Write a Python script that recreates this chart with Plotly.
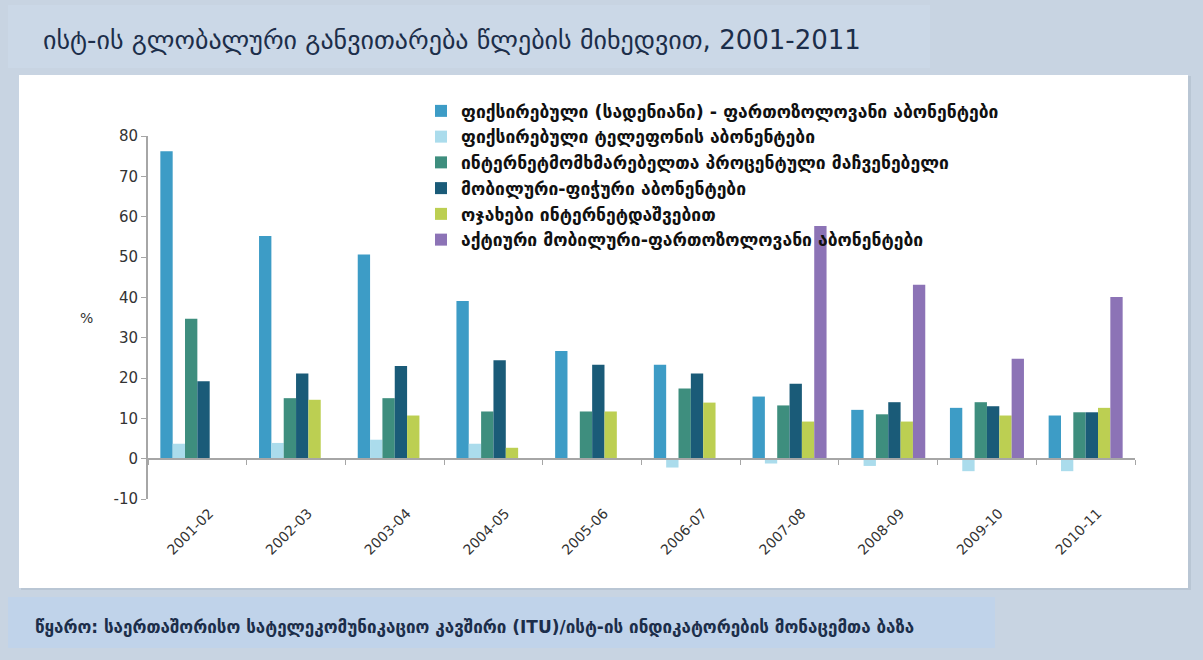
import plotly.graph_objects as go

categories = ["2001-02", "2002-03", "2003-04", "2004-05", "2005-06",
              "2006-07", "2007-08", "2008-09", "2009-10", "2010-11"]

series_names = [
    "ფიქსირებული (სადენიანი) - ფართოზოლოვანი აბონენტები",
    "ფიქსირებული ტელეფონის აბონენტები",
    "ინტერნეტმომხმარებელთა პროცენტული მაჩვენებელი",
    "მობილური-ფიჭური აბონენტები",
    "ოჯახები ინტერნეტდაშვებით",
    "აქტიური მობილური-ფართოზოლოვანი აბონენტები",
]

fixed_broadband = [76.2, 55.2, 50.6, 39.1, 26.7, 23.3, 15.4, 12.1, 12.6, 10.7]
fixed_telephone = [3.7, 3.9, 4.7, 3.7, -0.3, -2.2, -1.2, -1.8, -3.1, -3.1]
internet_users = [34.7, 15.0, 15.0, 11.7, 11.7, 17.4, 13.2, 11.0, 14.0, 11.5]
mobile_cellular = [19.2, 21.1, 23.0, 24.4, 23.3, 21.1, 18.6, 14.0, 13.0, 11.5]
households_internet = [None, 14.6, 10.7, 2.7, 11.7, 13.9, 9.2, 9.2, 10.7, 12.6]
active_mobile_broadband = [None, None, None, None, None, None, 57.7, 43.1, 24.8, 40.1]

series_values = [fixed_broadband, fixed_telephone, internet_users,
                 mobile_cellular, households_internet, active_mobile_broadband]
colors = ["#3d9cc6", "#abdcec", "#3e8e7e", "#1a5b78", "#bccf52", "#8c73b6"]

y_ticks = [-10, 0, 10, 20, 30, 40, 50, 60, 70, 80]

title_text = "ისტ-ის გლობალური განვითარება წლების მიხედვით, 2001-2011"
source_text = "წყარო: საერთაშორისო სატელეკომუნიკაციო კავშირი (ITU)/ისტ-ის ინდიკატორების მონაცემთა ბაზა"

W, H = 1203, 660
ML, MR, MT, MB = 148, 68, 136, 161
PW = W - ML - MR
PH = H - MT - MB


def px(x):
    return (x - ML) / PW


def py(y):
    return (H - MB - y) / PH


fig = go.Figure()
for i, (name, vals, col) in enumerate(zip(series_names, series_values, colors)):
    fig.add_trace(go.Bar(
        x=categories, y=vals, name=name, marker_color=col,
        marker_line_width=0, legendgroup=f"g{i}",
    ))

shapes = [
    # title band
    dict(type="rect", xref="paper", yref="paper", x0=px(8), x1=px(930),
         y0=py(68), y1=py(5), fillcolor="#cbd8e7", line_width=0, layer="below"),
    # white panel shadow
    dict(type="rect", xref="paper", yref="paper", x0=px(21), x1=px(1191),
         y0=py(590), y1=py(76), fillcolor="#b9c6d4", line_width=0, layer="below"),
    # white panel
    dict(type="rect", xref="paper", yref="paper", x0=px(19), x1=px(1188),
         y0=py(588), y1=py(75), fillcolor="#ffffff", line_width=0, layer="below"),
    # footer band
    dict(type="rect", xref="paper", yref="paper", x0=px(8), x1=px(995),
         y0=py(648), y1=py(597), fillcolor="#c0d3ea", line_width=0, layer="below"),
]

annotations = [
    dict(text="%", xref="paper", yref="paper", x=px(86), y=py(318),
         showarrow=False, font=dict(family="DejaVu Sans", size=14, color="#333333"),
         xanchor="center", yanchor="middle"),
    dict(text=source_text, xref="paper", yref="paper", x=px(33), y=py(627),
         showarrow=False, xanchor="left", yanchor="middle",
         font=dict(family="DejaVu Sans", size=17, color="#1c2e4a", weight="bold")),
]

fig.update_layout(
    width=W, height=H,
    margin=dict(l=ML, r=MR, t=MT, b=MB),
    paper_bgcolor="#c8d4e2",
    plot_bgcolor="rgba(0,0,0,0)",
    barmode="group", bargap=0.25, bargroupgap=0,
    title=dict(text=title_text, x=43 / W, xanchor="left", y=1 - 40 / H,
               yanchor="middle",
               font=dict(family="DejaVu Sans", size=26, color="#1c2e4a")),
    showlegend=True,
    legend=dict(x=px(421), y=py(93), xanchor="left", yanchor="top",
                bgcolor="rgba(0,0,0,0)", traceorder="grouped", tracegroupgap=0,
                font=dict(family="DejaVu Sans", size=17.5, color="#111111", weight="bold"),
                itemwidth=30),
    xaxis=dict(type="category", categoryorder="array", categoryarray=categories,
               range=[-0.5, 9.5], anchor="free", position=10 / 90,
               showline=True, linecolor="#a6a6a6", linewidth=2,
               ticks="outside", tickson="boundaries", ticklen=5,
               tickcolor="#a6a6a6", tickwidth=1,
               tickangle=-45, ticklabelstandoff=40, ticklabelshift=12,
               tickfont=dict(family="DejaVu Sans", size=14, color="#333333"),
               showgrid=False, zeroline=False),
    yaxis=dict(range=[-10, 80], tickvals=y_ticks, ticktext=[str(v) for v in y_ticks],
               showline=True,
               linecolor="#a6a6a6", linewidth=2, ticks="outside", ticklen=5,
               tickcolor="#a6a6a6", showgrid=False, zeroline=False,
               tickfont=dict(family="DejaVu Sans", size=15, color="#333333")),
    shapes=shapes,
    annotations=annotations,
)

fig.write_html("out.html", post_script="document.body.style.margin='0px';",
               config={"displayModeBar": False})
